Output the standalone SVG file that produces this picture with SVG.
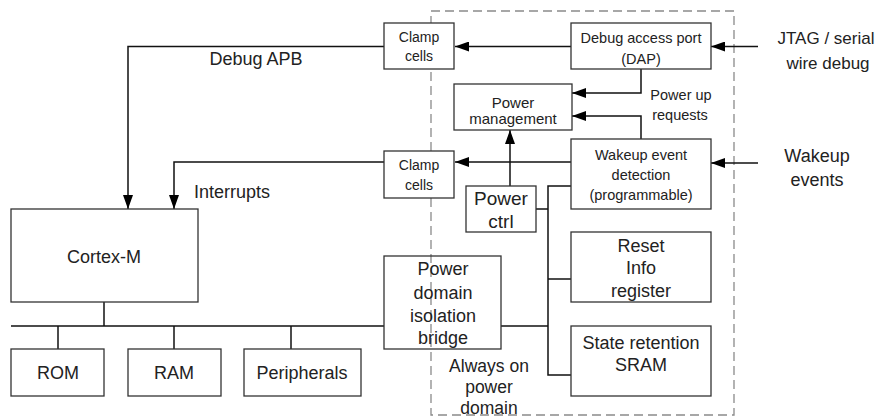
<svg xmlns="http://www.w3.org/2000/svg" width="879" height="419" viewBox="0 0 879 419">
<style>
.bx{fill:#fff;stroke:#333;stroke-width:1.3}
.bn{fill:none;stroke:#333;stroke-width:1.3}
.ln{fill:none;stroke:#111;stroke-width:1.5}
.dash{fill:none;stroke:#8a8a8a;stroke-width:1.3;stroke-dasharray:9 5}
text{font-family:"Liberation Sans",Arial,sans-serif;fill:#222;text-anchor:middle}
.s{font-size:14.5px}
.m{font-size:18px}
</style>
<defs>
<marker id="ah" viewBox="0 0 14 10" refX="14" refY="5" markerWidth="14" markerHeight="10" markerUnits="userSpaceOnUse" orient="auto">
<path d="M0,0 L14,5 L0,10 Z" fill="#000"/>
</marker>
</defs>
<rect class="dash" x="431" y="11" width="303" height="404"/>
<g id="connectors">
<path class="ln" d="M384,46.5 H128 V209" marker-end="url(#ah)"/>
<path class="ln" d="M384,162 H174 V209" marker-end="url(#ah)"/>
<path class="ln" d="M571,46.5 H455" marker-end="url(#ah)"/>
<path class="ln" d="M758,46.5 H711" marker-end="url(#ah)"/>
<path class="ln" d="M758,163 H711" marker-end="url(#ah)"/>
<path class="ln" d="M641,69 V93 H572" marker-end="url(#ah)"/>
<path class="ln" d="M641,139 V116 H572" marker-end="url(#ah)"/>
<path class="ln" d="M571,162 H455" marker-end="url(#ah)"/>
<path class="ln" d="M510,186 V130" marker-end="url(#ah)"/>
<path class="ln" d="M536,209 H548"/>
<path class="ln" d="M571,186 H548 V375 H571"/>
<path class="ln" d="M548,279 H571"/>
<path class="ln" d="M501,326 H548"/>
<path class="ln" d="M11,326 H384"/>
<path class="ln" d="M104,302 V326"/>
<path class="ln" d="M58,326 V349"/>
<path class="ln" d="M174,326 V349"/>
<path class="ln" d="M291,326 V349"/>
</g>
<g id="labels">
<text class="m" x="256" y="65" font-size="17">Debug APB</text>
<text class="m" x="232" y="198">Interrupts</text>
<text class="s" x="681" y="100">Power  up</text>
<text class="s" x="680" y="120">requests</text>
<text x="826" y="44" font-size="17">JTAG / serial</text>
<text x="828" y="69" font-size="17">wire debug</text>
<text class="m" x="817" y="162">Wakeup</text>
<text class="m" x="817" y="186">events</text>
</g>
<g id="clamp1"><rect class="bx" x="384" y="23" width="70" height="46"/>
<text x="419" y="42" font-size="14">Clamp</text><text x="419" y="61" font-size="14">cells</text></g>
<g id="clamp2"><rect class="bx" x="384" y="151" width="70" height="47"/>
<text x="419" y="170" font-size="14">Clamp</text><text x="419" y="190" font-size="14">cells</text></g>
<g id="dap"><rect class="bx" x="571" y="23" width="140" height="46"/>
<text class="s" x="641" y="43">Debug access port</text><text class="s" x="641" y="64">(DAP)</text></g>
<g id="pm"><rect class="bx" x="454" y="84" width="118" height="46"/>
<text x="513" y="108" font-size="15">Power</text><text x="513" y="124" font-size="15">management</text></g>
<g id="wakeup"><rect class="bx" x="571" y="139" width="140" height="70"/>
<text class="s" x="641" y="160">Wakeup event</text><text class="s" x="641" y="180">detection</text><text class="s" x="641" y="200">(programmable)</text></g>
<g id="powerctrl"><rect class="bx" x="466" y="186" width="70" height="46"/>
<text x="501" y="205" font-size="19">Power</text><text x="501" y="228" font-size="19">ctrl</text></g>
<g id="reset"><rect class="bx" x="571" y="232" width="140" height="70"/>
<text class="m" x="641" y="252">Reset</text><text class="m" x="641" y="274">Info</text><text class="m" x="641" y="297">register</text></g>
<g id="sram"><rect class="bx" x="571" y="326" width="140" height="70"/>
<text class="m" x="641" y="349" font-size="18.5">State retention</text><text class="m" x="641" y="371">SRAM</text></g>
<g id="bridge"><rect class="bn" x="384" y="256" width="117" height="93"/>
<text class="m" x="443" y="275">Power</text><text class="m" x="443" y="299">domain</text><text class="m" x="443" y="322">isolation</text><text class="m" x="443" y="344">bridge</text></g>
<g id="alwayson"><text x="489" y="372" font-size="17.5">Always on</text><text x="489" y="393" font-size="17.5">power</text><text x="489" y="414" font-size="17.5">domain</text></g>
<g id="cortex"><rect class="bx" x="11" y="209" width="187" height="93"/>
<text class="m" x="104" y="263">Cortex-M</text></g>
<g id="rom"><rect class="bx" x="11" y="349" width="93" height="47"/><text class="m" x="58" y="379">ROM</text></g>
<g id="ram"><rect class="bx" x="128" y="349" width="93" height="47"/><text class="m" x="174" y="379">RAM</text></g>
<g id="periph"><rect class="bx" x="244" y="349" width="117" height="47"/><text class="m" x="302" y="379" font-size="17.5">Peripherals</text></g>
</svg>
